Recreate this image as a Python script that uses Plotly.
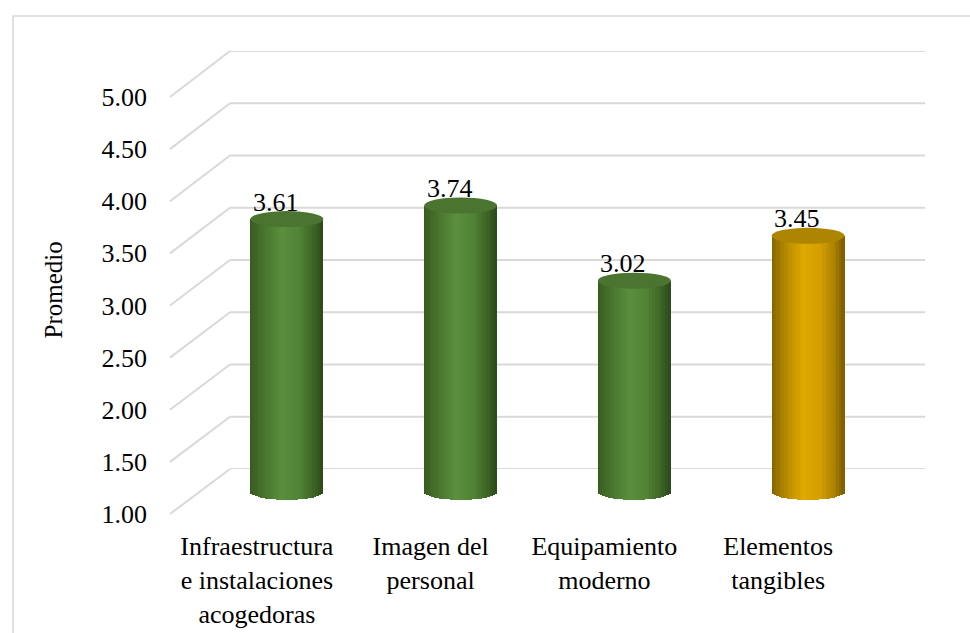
import plotly.graph_objects as go
import numpy as np

# ---------------- data ----------------
categories = ["Infraestructura<br>e instalaciones<br>acogedoras",
              "Imagen del<br>personal",
              "Equipamiento<br>moderno",
              "Elementos<br>tangibles"]
values = [3.61, 3.74, 3.02, 3.45]
value_labels = ["3.61", "3.74", "3.02", "3.45"]
series_kind = ["green", "green", "green", "gold"]
y_ticks = [1.0, 1.5, 2.0, 2.5, 3.0, 3.5, 4.0, 4.5, 5.0]

# ---------------- style ----------------
W, H = 970, 633
FONT = "Liberation Serif"
GRID = "#d9d9d9"
Y0, Y1 = 1.0, 5.0

def px_x(p):
    return p / W

def px_y(p):
    return (H - p) / H

def plane(p1, p5, lo, hi):
    ppu = (p1 - p5) / (Y1 - Y0)
    bottom = p1 + (Y0 - lo) * ppu
    top = p5 - (hi - Y1) * ppu
    return [px_y(bottom), px_y(top)]

front_x = [px_x(170), px_x(865)]
mid_x = [px_x(200), px_x(895)]
back_x = [px_x(230), px_x(925)]
front_y = plane(514, 97, Y0, Y1)
back_y = plane(469, 51, Y0, Y1)
MID_LO, MID_HI = 0.7, 5.3
mid_y = plane(491.5, 74, MID_LO, MID_HI)

profiles = {
    "green": [(-1.0, "#385a20"), (-0.55, "#4b7830"), (-0.12, "#5b8e3d"),
              (0.35, "#518336"), (0.75, "#3d6325"), (1.0, "#2c4918")],
    "gold": [(-1.0, "#856400"), (-0.55, "#bb8c00"), (-0.12, "#dfa900"),
             (0.35, "#d39f00"), (0.75, "#a87f00"), (1.0, "#7a5c00")],
}
top_colors = {"green": "#4a7430", "gold": "#ad8500"}

def hex2rgb(h):
    h = h.lstrip("#")
    return np.array([int(h[i:i + 2], 16) for i in (0, 2, 4)], dtype=float)

def shade(kind, u):
    pts = profiles[kind]
    for (u0, c0), (u1, c1) in zip(pts[:-1], pts[1:]):
        if u0 <= u <= u1:
            t = (u - u0) / (u1 - u0)
            c = hex2rgb(c0) * (1 - t) + hex2rgb(c1) * t
            return "rgb(%d,%d,%d)" % tuple(c.round())
    return pts[-1][1]

bar_w = 0.42
ell_px = 8.0
mid_px_per_unit = (491.5 - 74) / (Y1 - Y0)
ell_h = ell_px / mid_px_per_unit
N = 28

fig = go.Figure()
xs = list(range(len(values)))

fig.add_trace(go.Scatter(x=[None], y=[None], xaxis="x", yaxis="y",
                         showlegend=False, hoverinfo="skip"))
fig.add_trace(go.Scatter(x=[None], y=[None], xaxis="x3", yaxis="y3",
                         showlegend=False, hoverinfo="skip"))

for k in range(N):
    u = -1 + (k + 0.5) * 2 / N
    half = np.sqrt(max(0.0, 1 - u * u))
    bases = [Y0 - ell_h * half for _ in values]
    heights = [v - b for v, b in zip(values, bases)]
    sw = bar_w / N
    left = u * bar_w / 2 - sw * 0.75
    width = sw * 1.5
    if k == 0:
        left = -bar_w / 2
        width = sw * 1.25
    if k == N - 1:
        width = bar_w / 2 - left
    fig.add_trace(go.Bar(
        x=xs, y=heights, base=bases, width=width, offset=left,
        marker=dict(color=[shade(s, u) for s in series_kind], line=dict(width=0)),
        xaxis="x2", yaxis="y2", showlegend=False, hoverinfo="skip"))

shapes = []
for i, v in enumerate(values):
    shapes.append(dict(type="circle", xref="x2", yref="y2",
                       x0=i - bar_w / 2, x1=i + bar_w / 2,
                       y0=v - ell_h, y1=v + ell_h,
                       fillcolor=top_colors[series_kind[i]], line=dict(width=0),
                       layer="above"))

for t in y_ticks:
    shapes.append(dict(type="line", xref="x3 domain", yref="y3",
                       x0=0, x1=1, y0=t, y1=t,
                       line=dict(color=GRID, width=2), layer="below"))
    yf = front_y[0] + (t - Y0) / (Y1 - Y0) * (front_y[1] - front_y[0])
    yb = back_y[0] + (t - Y0) / (Y1 - Y0) * (back_y[1] - back_y[0])
    shapes.append(dict(type="line", xref="paper", yref="paper",
                       x0=front_x[0], x1=back_x[0], y0=yf, y1=yb,
                       line=dict(color=GRID, width=2), layer="below"))

shapes.append(dict(type="rect", xref="paper", yref="paper",
                   x0=px_x(13), x1=1.02, y0=-0.02, y1=px_y(16),
                   line=dict(color=GRID, width=1.5), fillcolor="rgba(0,0,0,0)",
                   layer="below"))

annotations = []
for i, (v, lab) in enumerate(zip(values, value_labels)):
    annotations.append(dict(x=i, y=v, xref="x2", yref="y2", text=lab,
                            showarrow=False, xshift=-11, yshift=17,
                            font=dict(family=FONT, size=26, color="black")))
annotations.append(dict(x=px_x(37), y=px_y(290), xref="paper", yref="paper",
                        text="Promedio", textangle=-90, showarrow=False,
                        font=dict(family=FONT, size=25, color="black")))

axis_off = dict(showgrid=False, zeroline=False, showline=False,
                showticklabels=False, ticks="", automargin=False)

fig.update_layout(
    width=W, height=H,
    margin=dict(l=0, r=0, t=0, b=0, autoexpand=False),
    paper_bgcolor="white", plot_bgcolor="rgba(0,0,0,0)",
    barmode="overlay", bargap=0,
    font=dict(family=FONT, size=26, color="black"),
    shapes=shapes, annotations=annotations,
    xaxis=dict(domain=front_x, range=[-0.5, 3.5], anchor="y",
               tickvals=xs, ticktext=categories, showgrid=False,
               zeroline=False, showline=False, ticks="", automargin=False,
               ticklabelstandoff=14,
               tickfont=dict(family=FONT, size=26, color="black")),
    yaxis=dict(domain=front_y, range=[Y0, Y1], anchor="x",
               tickvals=y_ticks, tickformat=".2f", showgrid=False,
               zeroline=False, showline=False, ticks="", automargin=False,
               ticklabelstandoff=22,
               tickfont=dict(family=FONT, size=26, color="black")),
    xaxis2=dict(domain=mid_x, range=[-0.5, 3.5], anchor="y2", **axis_off),
    yaxis2=dict(domain=mid_y, range=[MID_LO, MID_HI], anchor="x2", **axis_off),
    xaxis3=dict(domain=back_x, range=[-0.5, 3.5], anchor="y3", **axis_off),
    yaxis3=dict(domain=back_y, range=[Y0, Y1], anchor="x3", **axis_off),
)

fig.write_html("out.html")
